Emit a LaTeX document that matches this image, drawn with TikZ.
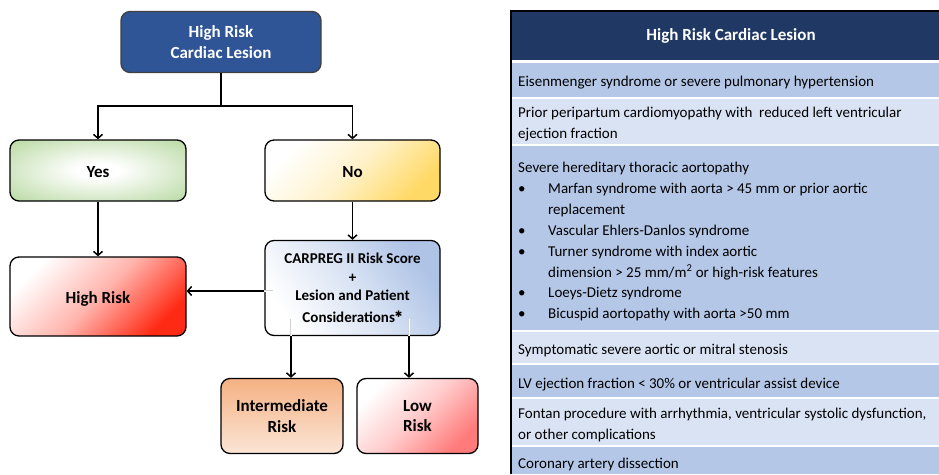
\documentclass[tikz,border=0pt]{standalone}
\usepackage{fontspec}
\setmainfont{Carlito}
\newfontfamily\symfont{DejaVu Sans}
\usetikzlibrary{arrows.meta}

\definecolor{topblue}{HTML}{2F5597}
\definecolor{navy}{HTML}{1F3864}
\definecolor{rowdark}{HTML}{B4C7E7}
\definecolor{rowlight}{HTML}{DAE3F3}
\definecolor{yesgreen}{HTML}{A9D18E}
\definecolor{nogold}{HTML}{FFD966}
\definecolor{carpblue}{HTML}{AEC3E6}
\definecolor{hired}{HTML}{FF2A14}
\definecolor{lowred}{HTML}{FF7A7A}
\definecolor{midtop}{HTML}{F4B183}
\definecolor{midbot}{HTML}{FBE5D6}

\pgfdeclareradialshading{yesglow}{\pgfpoint{0bp}{0bp}}{%
  color(0bp)=(white); color(6bp)=(white); color(42bp)=(yesgreen); color(100bp)=(yesgreen)}

\begin{document}
\begin{tikzpicture}[x=1pt,y=-1pt,
  box/.style={draw=black, line width=1.3pt, rounded corners=9pt, align=center,
    inner sep=2pt, font=\fontsize{17}{20.5}\selectfont\bfseries},
  oneline/.style={text height=14pt, text depth=0pt},
  arr/.style={line width=1.5pt, -{Straight Barb[length=4pt,width=9pt,line width=1.5pt]}},
  ghost/.style={draw=gray!35, line width=0.5pt, double=white, double distance=0.8pt},
  tline/.style={anchor=base west, inner sep=0pt, font=\fontsize{15}{18}\selectfont},
  bul/.style={tline}
]
\useasboundingbox (0,0) rectangle (939,474);

% ---------------- flowchart ----------------
\node[box, fill=topblue, draw=black!75, text=white, minimum width=200pt, minimum height=61pt]
  (top) at (221,42) {High Risk\\Cardiac Lesion};
\node[box, oneline, shading=yesglow, minimum width=176pt, minimum height=61pt]
  (yes) at (98,170.5) {Yes};
\node[box, oneline, top color=white, bottom color=nogold, middle color=nogold!35, shading angle=45,
  minimum width=175pt, minimum height=61pt]
  (no) at (352.5,170.5) {No};
\node[box, oneline, top color=white, bottom color=hired, middle color=hired!35, shading angle=45,
  minimum width=176pt, minimum height=79pt]
  (high) at (98,296.5) {High Risk};
\node[box, top color=carpblue, bottom color=white, middle color=carpblue!45, shading angle=-55,
  minimum width=175pt, minimum height=95pt, font=\fontsize{15}{18.5}\selectfont\bfseries]
  (carp) at (352.5,288)
  {CARPREG II Risk Score\\+\\Lesion and Patient\\[3pt]Considerations\raisebox{5pt}{\symfont\fontsize{9}{9}\selectfont\bfseries ✱}};
\node[box, top color=midtop, bottom color=midbot, minimum width=122pt, minimum height=75pt]
  (mid) at (282,416) {Intermediate\\Risk};
\node[box, top color=white, bottom color=lowred, middle color=lowred!40, shading angle=45,
  minimum width=121pt, minimum height=75pt]
  (low) at (417.5,416) {Low\\Risk};

% connector anchors
\coordinate (split) at (221,106);
\coordinate (hy) at (0,291);
\coordinate (ix) at (291,0);
\coordinate (lx) at (409,0);

% faint traces of the connectors inside the score box
\draw[ghost] (carp.west |- hy) -- ++(9,0);
\draw[ghost] (carp.south -| ix) -- ++(0,-17);
\draw[ghost] (carp.south -| lx) -- ++(0,-17);

\draw[line width=1.5pt] (top.south) -- (split);
\draw[arr] (split) -| (yes.north);
\draw[arr] (split) -| (no.north);
\draw[arr] (yes.south) -- (high.north);
\draw[arr] (no.south) -- (carp.north);
\draw[arr] (carp.west |- hy) -- (high.east |- hy);
\draw[arr] (carp.south -| ix) -- (mid.north -| ix);
\draw[arr] (carp.south -| lx) -- (low.north -| lx);

% ---------------- table ----------------
\fill[navy] (512,11) rectangle (939,60);
\fill[rowdark]  (512,63)  rectangle (939,97);
\fill[rowlight] (512,99)  rectangle (939,144);
\fill[rowdark]  (512,146) rectangle (939,330);
\fill[rowlight] (512,332) rectangle (939,363);
\fill[rowdark]  (512,365) rectangle (939,397);
\fill[rowlight] (512,399) rectangle (939,445);
\fill[rowdark]  (512,447) rectangle (939,474);
\draw[black, line width=1.5pt] (511,474) -- (511,11) -- (939,11);

\node[inner sep=0pt, text=white, font=\fontsize{17}{20}\selectfont\bfseries]
  (head) at (731,36) {High Risk Cardiac Lesion};

\node[tline] (r1)  at (518,86)  {Eisenmenger syndrome or severe pulmonary hypertension};
\node[tline] (r2a) at (518,117) {Prior peripartum cardiomyopathy with~ reduced left ventricular};
\node[tline] (r2b) at (518,138) {ejection fraction};
\node[tline] (r3a) at (518,172) {Severe hereditary thoracic aortopathy};
\node[bul] (b1) at (518,193) {\textbullet};
\node[tline] (r3b) at (548,193) {Marfan syndrome with aorta > 45 mm or prior aortic};
\node[tline] (r3c) at (548,214) {replacement};
\node[bul] (b2) at (518,235) {\textbullet};
\node[tline] (r3d) at (548,235) {Vascular Ehlers-Danlos syndrome};
\node[bul] (b3) at (518,256) {\textbullet};
\node[tline] (r3e) at (548,256) {Turner syndrome with index aortic};
\node[tline] (r3f) at (548,277) {dimension > 25 mm/m\textsuperscript{2} or high-risk features};
\node[bul] (b4) at (518,297) {\textbullet};
\node[tline] (r3g) at (548,297) {Loeys-Dietz syndrome};
\node[bul] (b5) at (518,318) {\textbullet};
\node[tline] (r3h) at (548,318) {Bicuspid aortopathy with aorta >50 mm};
\node[tline] (r4)  at (518,354) {Symptomatic severe aortic or mitral stenosis};
\node[tline] (r5)  at (518,388) {LV ejection fraction < 30\% or ventricular assist device};
\node[tline] (r6a) at (518,418) {Fontan procedure with arrhythmia, ventricular systolic dysfunction,};
\node[tline] (r6b) at (518,439) {or other complications};
\node[tline] (r7)  at (518,468) {Coronary artery dissection};
\end{tikzpicture}
\end{document}
